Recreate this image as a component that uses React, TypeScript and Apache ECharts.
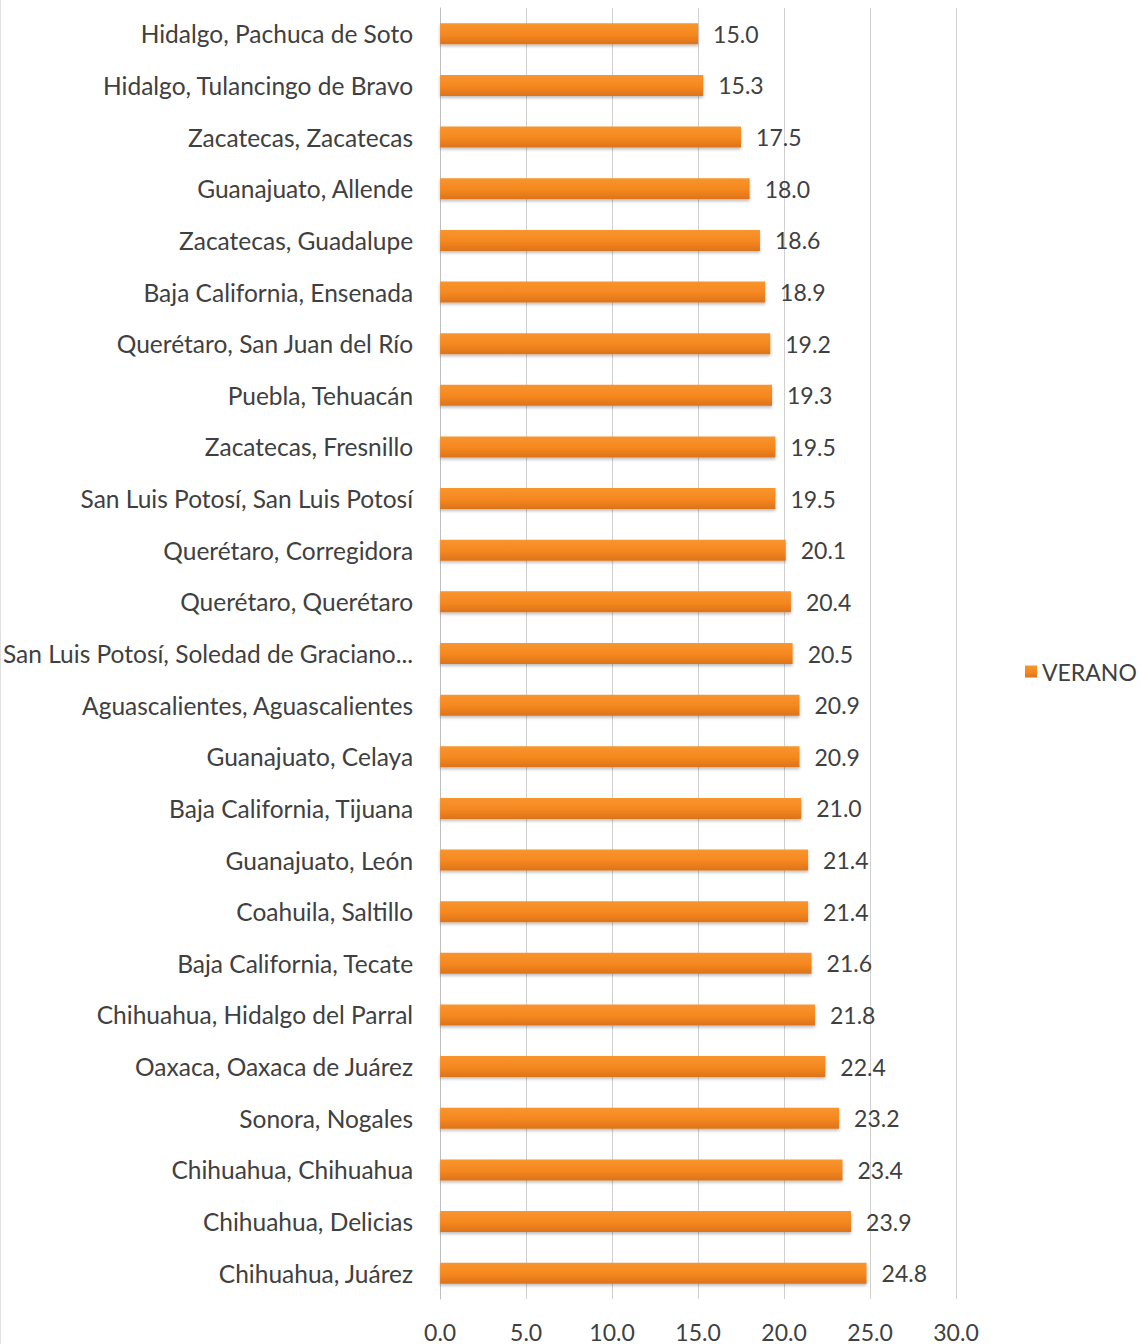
import React, { useEffect, useRef } from "react";
import * as echarts from "echarts";

const categories: string[] = [
  "Hidalgo, Pachuca de Soto",
  "Hidalgo, Tulancingo de Bravo",
  "Zacatecas, Zacatecas",
  "Guanajuato, Allende",
  "Zacatecas, Guadalupe",
  "Baja California, Ensenada",
  "Querétaro, San Juan del Río",
  "Puebla, Tehuacán",
  "Zacatecas, Fresnillo",
  "San Luis Potosí, San Luis Potosí",
  "Querétaro, Corregidora",
  "Querétaro, Querétaro",
  "San Luis Potosí, Soledad de Graciano...",
  "Aguascalientes, Aguascalientes",
  "Guanajuato, Celaya",
  "Baja California, Tijuana",
  "Guanajuato, León",
  "Coahuila, Saltillo",
  "Baja California, Tecate",
  "Chihuahua, Hidalgo del Parral",
  "Oaxaca, Oaxaca de Juárez",
  "Sonora, Nogales",
  "Chihuahua, Chihuahua",
  "Chihuahua, Delicias",
  "Chihuahua, Juárez",
];

const veranoValues: number[] = [
  15.0, 15.3, 17.5, 18.0, 18.6, 18.9, 19.2, 19.3, 19.5, 19.5, 20.1, 20.4, 20.5,
  20.9, 20.9, 21.0, 21.4, 21.4, 21.6, 21.8, 22.4, 23.2, 23.4, 23.9, 24.8,
];

const seriesName = "VERANO";
const xMin = 0;
const xMax = 30;
const xInterval = 5;

const FONT = "Lato, 'Noto Sans', sans-serif";
const TEXT = "#404040";

export default function App() {
  const ref = useRef<HTMLDivElement>(null);
  useEffect(() => {
    document.body.style.margin = "0";
    if (!ref.current) return;
    const chart = echarts.init(ref.current, undefined, { renderer: "svg" });
    chart.setOption({
      animation: false,
      backgroundColor: "#ffffff",
      textStyle: { fontFamily: FONT },
      grid: { left: 435, right: 184, top: 8, bottom: 45, containLabel: false },
      legend: {
        data: [seriesName],
        left: 1020,
        top: 655,
        icon: "rect",
        itemWidth: 12,
        itemHeight: 12,
        itemGap: 5,
        textStyle: { color: TEXT, fontSize: 23, fontFamily: FONT },
      },
      xAxis: {
        type: "value",
        min: xMin,
        max: xMax,
        interval: xInterval,
        axisLine: { show: false },
        axisTick: { show: false },
        splitLine: { show: true, lineStyle: { color: "#D0D0D0", width: 1 } },
        axisLabel: {
          color: TEXT,
          fontSize: 23,
          fontFamily: FONT,
          margin: 21,
          formatter: (v: number) => v.toFixed(1),
        },
      },
      yAxis: {
        type: "category",
        data: categories,
        inverse: true,
        axisLine: { show: true, lineStyle: { color: "#BFBFBF", width: 1 } },
        axisTick: { show: false },
        splitLine: { show: false },
        axisLabel: { color: TEXT, fontSize: 24.5, fontFamily: FONT, margin: 27 },
      },
      series: [
        {
          name: seriesName,
          type: "bar",
          data: veranoValues,
          barWidth: 21,
          itemStyle: {
            color: new echarts.graphic.LinearGradient(0, 0, 0, 1, [
              { offset: 0, color: "#F8952F" },
              { offset: 0.55, color: "#F5871F" },
              { offset: 1, color: "#DC731B" },
            ]),
            shadowColor: "rgba(0,0,0,0.25)",
            shadowBlur: 3,
            shadowOffsetY: 2,
          },
          label: {
            show: true,
            position: "right",
            distance: 15,
            color: TEXT,
            fontSize: 23,
            fontFamily: FONT,
            formatter: (p: any) => Number(p.value).toFixed(1),
          },
        },
      ],
      graphic: [
        {
          type: "line",
          shape: { x1: 0.5, y1: 0, x2: 0.5, y2: 1344 },
          style: { stroke: "#E0E0E0", lineWidth: 1 },
        },
      ],
    });
    return () => chart.dispose();
  }, []);
  return <div ref={ref} style={{ width: 1140, height: 1344 }} />;
}
